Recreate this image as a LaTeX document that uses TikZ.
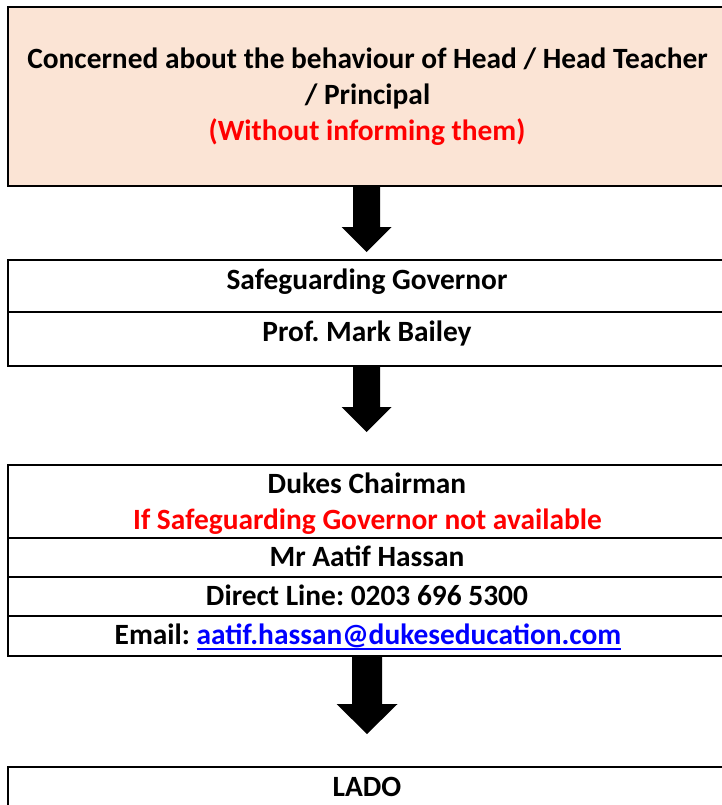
\documentclass[tikz,border=0pt]{standalone}
\usepackage{fontspec}
\setmainfont{Carlito}
\usetikzlibrary{calc}
\definecolor{peach}{HTML}{FBE4D5}
\definecolor{alertred}{HTML}{FF0000}
\definecolor{linkblue}{HTML}{0000FF}
\newcommand\myul[1]{\setbox0\hbox{#1}\rlap{\vrule height -4pt depth 6pt width \wd0}\box0}
\newcommand\blkarrow[5]{\fill[blockarrow] ($(#1)+(-#3,0)$) -- ($(#1)+(#3,0)$) -- ($(#2)+(#3,-#5)$) -- ($(#2)+(#4,-#5)$) -- (#2) -- ($(#2)+(-#4,-#5)$) -- ($(#2)+(-#3,-#5)$) -- cycle;}
\frenchspacing
\begin{document}
\begin{tikzpicture}[x=1pt,y=-1pt,
  box/.style={draw=black, line width=2pt, inner sep=0pt, outer sep=0pt, anchor=north west, minimum width=722.5pt},
  txt/.style={anchor=base, inner sep=0pt, font=\fontsize{29.4}{36}\selectfont\bfseries},
  divider/.style={line width=1.8pt},
  blockarrow/.style={fill=black}]
\useasboundingbox (0,0) rectangle (721,805);
% boxes
\node[box, fill=peach, minimum height=179.5pt] (b1) at (7.5,7) {};
\node[box, minimum height=106.5pt] (b2) at (7.5,259.5) {};
\node[box, minimum height=191.5pt] (b3) at (7.5,464.5) {};
\node[box, minimum height=60pt] (b4) at (7.5,767) {};
% dividers
\draw[divider] (b2.west |- 0,312) -- (b2.east |- 0,312);
\draw[divider] (b3.west |- 0,538) -- (b3.east |- 0,538);
\draw[divider] (b3.west |- 0,577) -- (b3.east |- 0,577);
\draw[divider] (b3.west |- 0,616) -- (b3.east |- 0,616);
% texts
\node[txt] (t1a) at (367.5,69) {Concerned about the behaviour of Head / Head Teacher};
\node[txt] (t1b) at (367.5,105) {/ Principal};
\node[txt, text=alertred] (t1c) at (367,141) {(Without informing them)};
\node[txt] (t2a) at (367,289) {Safeguarding Governor};
\node[txt] (t2b) at (367,341) {Prof. Mark Bailey};
\node[txt] (t3a) at (367,493) {Dukes Chairman};
\node[txt, text=alertred] (t3b) at (367.5,529) {If Safeguarding Governor not available};
\node[txt] (t3c) at (367,566) {Mr Aatif Hassan};
\node[txt] (t3d) at (367,605) {Direct Line: 0203 696 5300};
\node[txt] (t3e) at (368,644) {Email: \textcolor{linkblue}{\myul{aatif.hassan@dukeseducation.com}}};
\node[txt] (t4a) at (367,796) {LADO};
% arrow anchor points
\coordinate (a1s) at (366.5,0 |- b1.south);
\coordinate (a1t) at ($(366.5,0 |- b2.north)+(0,-7.5)$);
\coordinate (a2s) at (366.5,0 |- b2.south);
\coordinate (a2t) at ($(366.5,0 |- b3.north)+(0,-32.5)$);
\coordinate (a3s) at (367,0 |- b3.south);
\coordinate (a3t) at ($(367,0 |- b4.north)+(0,-33)$);
\blkarrow{a1s}{a1t}{13.5}{25}{25}
\blkarrow{a2s}{a2t}{13.5}{25}{25}
\blkarrow{a3s}{a3t}{15}{30.5}{30}
\end{tikzpicture}
\end{document}
